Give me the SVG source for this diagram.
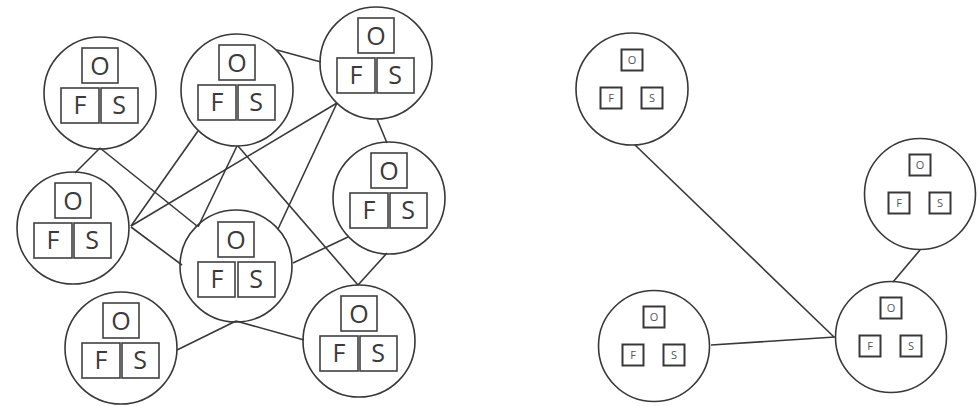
<svg xmlns="http://www.w3.org/2000/svg" width="979" height="406" viewBox="0 0 979 406">
<style>
.c{fill:none;stroke:#383838;stroke-width:1.6}
.b{fill:#fff;stroke:#404040;stroke-width:1.6}
.sb{fill:#fff;stroke:#383838;stroke-width:2}
.t{font-family:"Open Sans","Liberation Sans",sans-serif;font-size:25px;fill:#3a3a3a;text-anchor:middle}
.st{font-family:"Open Sans","Liberation Sans",sans-serif;font-size:11px;fill:#555;text-anchor:middle}
.e{stroke:#383838;stroke-width:1.6;fill:none}
</style>
<rect width="979" height="406" fill="#fff"/>
<g id="connectors">
<line class="e" x1="100" y1="148" x2="75" y2="173"/>
<line class="e" x1="100" y1="148" x2="197" y2="226"/>
<line class="e" x1="131" y1="227" x2="182" y2="265"/>
<line class="e" x1="131" y1="226" x2="337" y2="103"/>
<line class="e" x1="131" y1="226" x2="198" y2="131"/>
<line class="e" x1="237" y1="146" x2="198" y2="227"/>
<line class="e" x1="238" y1="146" x2="358" y2="285"/>
<line class="e" x1="277" y1="50" x2="321" y2="62"/>
<line class="e" x1="337" y1="103" x2="278" y2="229"/>
<line class="e" x1="377" y1="119" x2="387" y2="143"/>
<line class="e" x1="348" y1="237" x2="293" y2="263"/>
<line class="e" x1="387" y1="253" x2="358" y2="285"/>
<line class="e" x1="236" y1="321" x2="177" y2="350"/>
<line class="e" x1="236" y1="321" x2="304" y2="340"/>
<line class="e" x1="635" y1="145" x2="834" y2="337"/>
<line class="e" x1="711" y1="345" x2="835" y2="337"/>
<line class="e" x1="920" y1="250" x2="893" y2="282"/>
</g>
<g id="n1" transform="translate(100,93)">
<circle class="c" r="56"/>
<rect class="b" x="-18" y="-45" width="36" height="35"/><text class="t" x="0" y="-18">O</text>
<rect class="b" x="-39" y="-5" width="38" height="35"/><text class="t" x="-20" y="21">F</text>
<rect class="b" x="1" y="-5" width="37" height="35"/><text class="t" x="19" y="21">S</text>
</g>
<g id="n2" transform="translate(237,90)">
<circle class="c" r="56"/>
<rect class="b" x="-18" y="-45" width="36" height="35"/><text class="t" x="0" y="-18">O</text>
<rect class="b" x="-39" y="-5" width="38" height="35"/><text class="t" x="-20" y="21">F</text>
<rect class="b" x="1" y="-5" width="37" height="35"/><text class="t" x="19" y="21">S</text>
</g>
<g id="n3" transform="translate(376,63)">
<circle class="c" r="56"/>
<rect class="b" x="-18" y="-45" width="36" height="35"/><text class="t" x="0" y="-18">O</text>
<rect class="b" x="-39" y="-5" width="38" height="35"/><text class="t" x="-20" y="21">F</text>
<rect class="b" x="1" y="-5" width="37" height="35"/><text class="t" x="19" y="21">S</text>
</g>
<g id="n4" transform="translate(73,228)">
<circle class="c" r="56"/>
<rect class="b" x="-18" y="-45" width="36" height="35"/><text class="t" x="0" y="-18">O</text>
<rect class="b" x="-39" y="-5" width="38" height="35"/><text class="t" x="-20" y="21">F</text>
<rect class="b" x="1" y="-5" width="37" height="35"/><text class="t" x="19" y="21">S</text>
</g>
<g id="n5" transform="translate(236,266)">
<circle class="c" r="56"/>
<rect class="b" x="-18" y="-44" width="36" height="35"/><text class="t" x="0" y="-17">O</text>
<rect class="b" x="-38" y="-4" width="37" height="35"/><text class="t" x="-19" y="22">F</text>
<rect class="b" x="2" y="-4" width="37" height="35"/><text class="t" x="20" y="22">S</text>
</g>
<g id="n6" transform="translate(389,198)">
<circle class="c" r="56"/>
<rect class="b" x="-18" y="-45" width="36" height="35"/><text class="t" x="0" y="-18">O</text>
<rect class="b" x="-39" y="-5" width="38" height="35"/><text class="t" x="-20" y="21">F</text>
<rect class="b" x="1" y="-5" width="37" height="35"/><text class="t" x="19" y="21">S</text>
</g>
<g id="n7" transform="translate(121,348)">
<circle class="c" r="56"/>
<rect class="b" x="-18" y="-45" width="36" height="35"/><text class="t" x="0" y="-18">O</text>
<rect class="b" x="-39" y="-5" width="38" height="35"/><text class="t" x="-20" y="21">F</text>
<rect class="b" x="1" y="-5" width="37" height="35"/><text class="t" x="19" y="21">S</text>
</g>
<g id="n8" transform="translate(359,341)">
<circle class="c" r="56"/>
<rect class="b" x="-18" y="-45" width="36" height="35"/><text class="t" x="0" y="-18">O</text>
<rect class="b" x="-39" y="-5" width="38" height="35"/><text class="t" x="-20" y="21">F</text>
<rect class="b" x="1" y="-5" width="37" height="35"/><text class="t" x="19" y="21">S</text>
</g>
<g id="nA" transform="translate(632,89)">
<circle class="c" r="56"/>
<rect class="sb" x="-10.5" y="-39.5" width="21" height="21"/><text class="st" x="0" y="-25">O</text>
<rect class="sb" x="-31.5" y="-1.5" width="21" height="21"/><text class="st" x="-21" y="13">F</text>
<rect class="sb" x="9.5" y="-1.5" width="21" height="21"/><text class="st" x="20" y="13">S</text>
</g>
<g id="nB" transform="translate(920,194)">
<circle class="c" r="55.5"/>
<rect class="sb" x="-10.5" y="-39.5" width="21" height="21"/><text class="st" x="0" y="-25">O</text>
<rect class="sb" x="-31.5" y="-1.5" width="21" height="21"/><text class="st" x="-21" y="13">F</text>
<rect class="sb" x="9.5" y="-1.5" width="21" height="21"/><text class="st" x="20" y="13">S</text>
</g>
<g id="nC" transform="translate(891,337)">
<circle class="c" r="55.5"/>
<rect class="sb" x="-10.5" y="-39.5" width="21" height="21"/><text class="st" x="0" y="-25">O</text>
<rect class="sb" x="-31.5" y="-1.5" width="21" height="21"/><text class="st" x="-21" y="13">F</text>
<rect class="sb" x="9.5" y="-1.5" width="21" height="21"/><text class="st" x="20" y="13">S</text>
</g>
<g id="nD" transform="translate(654,346)">
<circle class="c" r="55.5"/>
<rect class="sb" x="-10.5" y="-39.5" width="21" height="21"/><text class="st" x="0" y="-25">O</text>
<rect class="sb" x="-31.5" y="-1.5" width="21" height="21"/><text class="st" x="-21" y="13">F</text>
<rect class="sb" x="9.5" y="-1.5" width="21" height="21"/><text class="st" x="20" y="13">S</text>
</g>
</svg>
